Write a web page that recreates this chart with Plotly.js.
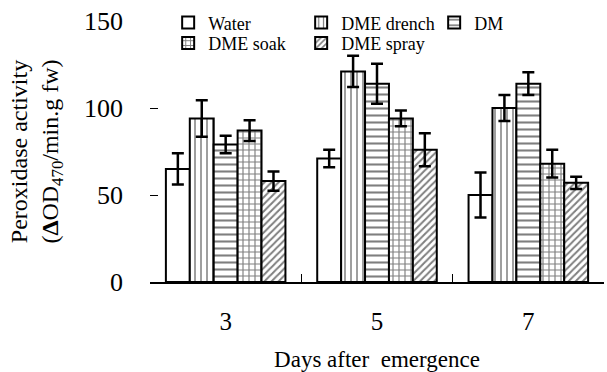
<!DOCTYPE html>
<html>
<head>
<meta charset="utf-8">
<script src="https://cdn.plot.ly/plotly-3.0.1.min.js"></script>
<style>
  html, body { margin: 0; padding: 0; background: #fff; }
  #chart { width: 607px; height: 372px; }
</style>
</head>
<body>
<div id="chart"></div>
<script>
// Data
const days = ['3', '5', '7'];
const seriesNames = ['Water', 'DME drench', 'DM', 'DME soak', 'DME spray'];
const legendRow = ['legend', 'legend', 'legend', 'legend2', 'legend2'];
const water      = [65, 71, 50];
const waterErr   = [9, 5, 13];
const drench     = [94, 121, 100];
const drenchErr  = [10.5, 9, 7.5];
const dm         = [79, 114, 114];
const dmErr      = [5, 11.5, 6.5];
const soak       = [87, 94, 68];
const soakErr    = [6, 4.5, 8];
const spray      = [58, 76, 57];
const sprayErr   = [5.5, 9.5, 3.5];
const yTicks = [0, 50, 100, 150];

const values = [water, drench, dm, soak, spray];
const errors = [waterErr, drenchErr, dmErr, soakErr, sprayErr];
const patterns = [
  {shape: ''},
  {shape: '|', size: 6, solidity: 0.25},
  {shape: '-', size: 7, solidity: 0.3},
  {shape: '+', size: 6, solidity: 0.35},
  {shape: '/', size: 5, solidity: 0.4}
];

const serif = 'Liberation Serif, Times New Roman, serif';

const traces = seriesNames.map((name, i) => ({
  type: 'bar',
  name: name,
  legend: legendRow[i],
  x: days,
  y: values[i],
  error_y: {type: 'data', array: errors[i], visible: true, color: '#000', thickness: 2.5, width: 6},
  marker: {
    color: '#fff',
    line: {color: '#000', width: 2},
    pattern: Object.assign({fillmode: 'overlay', fgcolor: '#000', bgcolor: '#fff'}, patterns[i])
  }
}));

const legendCommon = {
  orientation: 'h',
  xanchor: 'left',
  yanchor: 'top',
  entrywidth: 88,
  itemwidth: 30,
  font: {family: serif, size: 18, color: '#000'},
  bgcolor: 'rgba(0,0,0,0)'
};

const layout = {
  width: 607,
  height: 372,
  margin: {l: 150, r: 3, t: 21, b: 90},
  paper_bgcolor: '#fff',
  plot_bgcolor: '#fff',
  font: {family: serif, color: '#000'},
  barmode: 'group',
  bargap: 0.21,
  bargroupgap: 0,
  showlegend: true,
  legend: Object.assign({}, legendCommon, {x: 0.04, y: 1.064}),
  legend2: Object.assign({}, legendCommon, {x: 0.04, y: 0.985}),
  xaxis: {
    type: 'category',
    showline: true, linecolor: '#000', linewidth: 1.5,
    showgrid: false, zeroline: false,
    ticks: 'inside', ticklen: 8, tickcolor: '#000', tickwidth: 1,
    tickson: 'boundaries',
    ticklabelstandoff: 16,
    tickfont: {family: serif, size: 25, color: '#000'},
    title: {text: 'Days after  emergence', font: {family: serif, size: 23, color: '#000'}, standoff: 20}
  },
  yaxis: {
    range: [0, 150],
    tickvals: yTicks,
    showline: false, showgrid: false, zeroline: false,
    ticks: 'inside', ticklen: 8, tickcolor: '#000', tickwidth: 1,
    ticklabelstandoff: 26,
    tickfont: {family: serif, size: 26, color: '#000'},
    title: {text: 'Peroxidase activity<br>(<b>Δ</b>OD<sub>470</sub>/min.g fw)', font: {family: serif, size: 24, color: '#000'}, standoff: 18}
  }
};

Plotly.newPlot('chart', traces, layout, {displayModeBar: false, staticPlot: true});
</script>
</body>
</html>
